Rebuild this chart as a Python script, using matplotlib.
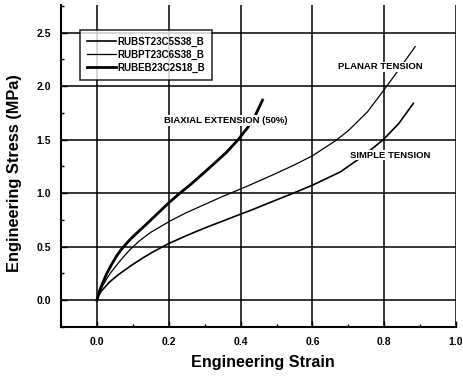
import matplotlib
matplotlib.use("Agg")
import matplotlib.pyplot as plt
from matplotlib.ticker import MultipleLocator

plt.rcParams['font.family'] = ['Liberation Sans', 'DejaVu Sans']

# Data
biax_x = [0, 0.005, 0.012, 0.026, 0.04, 0.055, 0.068, 0.09, 0.11, 0.128, 0.15, 0.175, 0.2,
          0.229, 0.26, 0.289, 0.324, 0.36, 0.393, 0.42, 0.44, 0.461]
biax_y = [0, 0.065, 0.13, 0.24, 0.33, 0.415, 0.475, 0.56, 0.625, 0.68, 0.75, 0.83, 0.91,
          0.995, 1.08, 1.165, 1.27, 1.38, 1.50, 1.615, 1.72, 1.87]

planar_x = [0, 0.005, 0.012, 0.026, 0.04, 0.06, 0.075, 0.091, 0.12, 0.15, 0.206, 0.25, 0.30,
            0.35, 0.40, 0.428, 0.492, 0.55, 0.60, 0.664, 0.70, 0.753, 0.798, 0.835, 0.886]
planar_y = [0, 0.055, 0.11, 0.195, 0.265, 0.35, 0.41, 0.47, 0.56, 0.635, 0.745, 0.82, 0.895,
            0.97, 1.04, 1.08, 1.175, 1.265, 1.35, 1.49, 1.585, 1.76, 1.96, 2.13, 2.37]

simple_x = [0, 0.005, 0.012, 0.035, 0.06, 0.081, 0.10, 0.13, 0.155, 0.183, 0.20, 0.25, 0.30,
            0.358, 0.40, 0.428, 0.483, 0.539, 0.60, 0.678, 0.742, 0.797, 0.84, 0.881]
simple_y = [0, 0.045, 0.085, 0.17, 0.24, 0.29, 0.335, 0.40, 0.45, 0.50, 0.53, 0.605, 0.675,
            0.75, 0.805, 0.84, 0.915, 0.99, 1.075, 1.20, 1.35, 1.50, 1.65, 1.84]

legend_labels = ["RUBST23C5S38_B", "RUBPT23C6S38_B", "RUBEB23C2S18_B"]
x_ticks = [0.0, 0.2, 0.4, 0.6, 0.8, 1.0]
y_ticks = [0.0, 0.5, 1.0, 1.5, 2.0, 2.5]

fig = plt.figure(figsize=(4.64, 3.76), dpi=100)
ax = fig.add_axes([0.1315, 0.1303, 0.8515, 0.8567])

l1, = ax.plot(simple_x, simple_y, color='black', lw=1.2, zorder=3)
l2, = ax.plot(planar_x, planar_y, color='black', lw=0.9, zorder=3)
l3, = ax.plot(biax_x, biax_y, color='black', lw=2.0, zorder=3)

ax.set_xlim(-0.1, 1.0)
ax.set_ylim(-0.25, 2.76)
ax.set_xticks(x_ticks)
ax.set_yticks(y_ticks)
ax.set_xticklabels([f"{v:.1f}" for v in x_ticks], fontweight='bold', fontsize=7.5)
ax.set_yticklabels([f"{v:.1f}" for v in y_ticks], fontweight='bold', fontsize=7.5)
ax.xaxis.set_minor_locator(MultipleLocator(0.1))
ax.yaxis.set_minor_locator(MultipleLocator(0.25))
ax.tick_params(which='major', direction='in', length=4, width=1)
ax.tick_params(axis='x', which='major', pad=7)
ax.tick_params(axis='y', which='major', pad=7)
ax.tick_params(which='minor', direction='in', length=2.5, width=1)
ax.grid(True, which='major', color='black', lw=1.1)
ax.set_axisbelow(True)

for s in ['top', 'right']:
    ax.spines[s].set_visible(False)
for s in ['left', 'bottom']:
    ax.spines[s].set_linewidth(1.5)

ax.set_xlabel("Engineering Strain", fontsize=11.6, fontweight='bold')
ax.xaxis.set_label_coords(0.511, -0.087)
ax.set_ylabel("Engineering Stress (MPa)", fontsize=11.8, fontweight='bold')
ax.yaxis.set_label_coords(-0.098, 0.478)

bbox = dict(facecolor='white', edgecolor='none', pad=0.5)
ax.text(0.789, 2.18, "PLANAR TENSION", fontsize=6.8, fontweight='bold', ha='center', va='center', bbox=bbox, zorder=4)
ax.text(0.36, 1.68, "BIAXIAL EXTENSION (50%)", fontsize=6.8, fontweight='bold', ha='center', va='center', bbox=bbox, zorder=4)
ax.text(0.817, 1.355, "SIMPLE TENSION", fontsize=6.8, fontweight='bold', ha='center', va='center', bbox=bbox, zorder=4)

leg = ax.legend([l1, l2, l3], legend_labels, loc='upper left', bbox_to_anchor=(0.048, 0.922),
                prop={'size': 7, 'weight': 'bold'}, frameon=True, fancybox=False, edgecolor='black',
                handlelength=3.0, handletextpad=0.15, borderpad=0.7, labelspacing=0.3,
                borderaxespad=0)
leg.get_frame().set_linewidth(1.2)

fig.savefig("out.png", dpi=100)
